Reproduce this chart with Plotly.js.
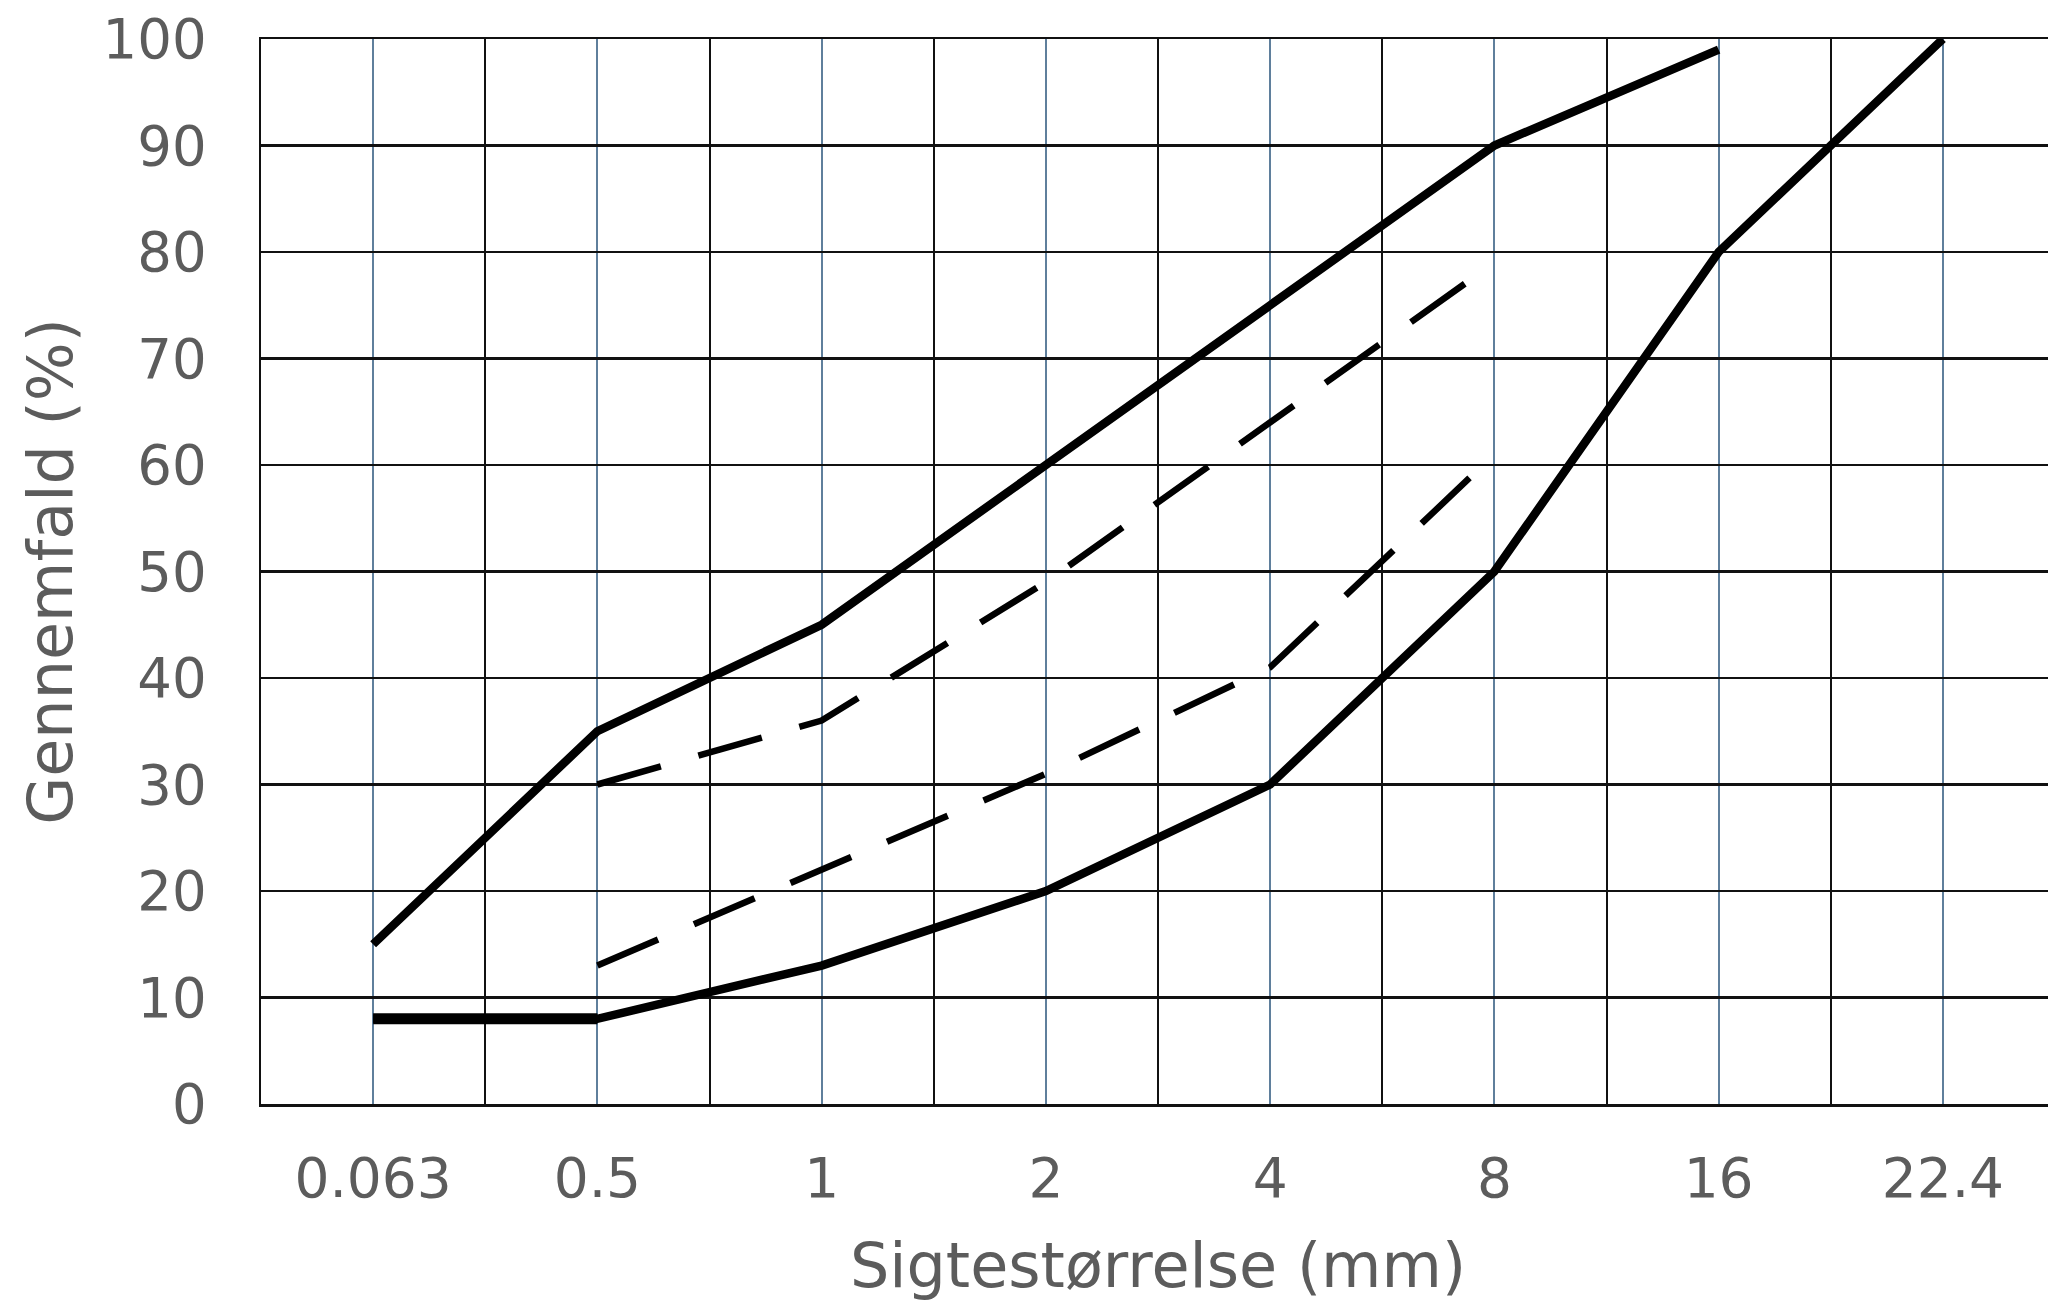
<!DOCTYPE html>
<html>
<head>
<meta charset="utf-8">
<script src="https://cdn.plot.ly/plotly-3.0.1.min.js"></script>
<style>
html, body { margin: 0; padding: 0; overflow: hidden; background: #fff; }
#chart { width: 2060px; height: 1302px; }
</style>
</head>
<body>
<div id="chart"></div>
<script>
// Sieve sizes (mm) - category tick labels
const sieveSizes = ["0.063", "0.5", "1", "2", "4", "8", "16", "22.4"];
// Passing (%) - solid envelope curves
const upperLimit = [15, 35, 45, 60, 75, 90, 99, null];
const lowerLimit = [8, 8, 13, 20, 30, 50, 80, 100];
// Passing (%) - dashed inner curves
const upperDashed = [null, 30, 36, 49, 64, 79, null, null];
const lowerDashed = [null, 13, 22, 31, 41, 61, null, null];
// Y tick values
const yTicks = [0, 10, 20, 30, 40, 50, 60, 70, 80, 90, 100];

const xPos = sieveSizes.map((s, i) => i);

const solid = { color: '#000', width: 8.5 };
const dashed = { color: '#000', width: 6.5, dash: '66px,39px' };

const traces = [
  { x: xPos, y: upperLimit, mode: 'lines', line: solid, connectgaps: false, hoverinfo: 'skip' },
  { x: xPos, y: lowerLimit, mode: 'lines', line: solid, hoverinfo: 'skip' },
  { x: xPos.slice(0, 2), y: lowerLimit.slice(0, 2), mode: 'lines', line: { color: '#000', width: 11 }, hoverinfo: 'skip' },
  { x: xPos, y: upperDashed, mode: 'lines', line: dashed, hoverinfo: 'skip' },
  { x: xPos, y: lowerDashed, mode: 'lines', line: dashed, hoverinfo: 'skip' }
];

const fontFamily = 'DejaVu Sans, Verdana, sans-serif';
const textColor = '#5c5c5c';

const layout = {
  width: 2060,
  height: 1302,
  margin: { l: 261, r: 5, t: 39, b: 198, pad: 0 },
  paper_bgcolor: '#fff',
  plot_bgcolor: '#fff',
  showlegend: false,
  font: { family: fontFamily, color: textColor, size: 55 },
  xaxis: {
    type: 'linear',
    range: [-0.5, 7.5],
    tickmode: 'array',
    tickvals: xPos,
    ticktext: sieveSizes,
    ticks: '',
    ticklabelstandoff: 24,
    showgrid: true,
    gridcolor: '#5f7f9c',
    gridwidth: 2,
    zeroline: false,
    showline: true,
    linecolor: '#111',
    linewidth: 2.5,
    mirror: true,
    tickfont: { family: fontFamily, size: 55, color: textColor },
    minor: {
      tickmode: 'linear',
      tick0: 0.5,
      dtick: 1,
      showgrid: true,
      gridcolor: '#111',
      gridwidth: 2,
      ticks: ''
    },
    title: {
      text: 'Sigtestørrelse (mm)',
      font: { family: fontFamily, size: 62, color: textColor },
      standoff: 50
    },
    fixedrange: true
  },
  yaxis: {
    range: [0, 100],
    tickmode: 'array',
    tickvals: yTicks,
    ticks: '',
    ticklabelstandoff: 41,
    showgrid: true,
    gridcolor: '#111',
    gridwidth: 2.5,
    zeroline: false,
    showline: true,
    linecolor: '#111',
    linewidth: 2.5,
    mirror: true,
    tickfont: { family: fontFamily, size: 54.5, color: textColor },
    title: {
      text: 'Gennemfald (%)',
      font: { family: fontFamily, size: 62, color: textColor },
      standoff: 10
    },
    fixedrange: true
  }
};

Plotly.newPlot('chart', traces, layout, { staticPlot: true, displayModeBar: false });
</script>
</body>
</html>
